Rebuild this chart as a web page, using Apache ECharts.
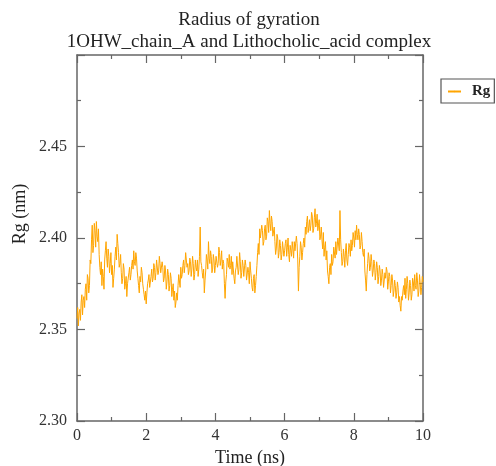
<!DOCTYPE html>
<html><head><meta charset="utf-8">
<script src="https://cdn.jsdelivr.net/npm/echarts@6/dist/echarts.min.js"></script>
<style>html,body{margin:0;padding:0;background:#fff}#c{width:496px;height:466px}</style>
</head><body><div id="c"></div>
<script>
const titleLines = ['Radius of gyration', '1OHW_chain_A and Lithocholic_acid complex'];
const xName = 'Time (ns)';
const yName = 'Rg (nm)';
const seriesName = 'Rg';
const timeStep = 0.02; // ns sampling grid
// Rg at even samples (t = 0, 0.04, 0.08, ... 10.00)
const rgEven = [
2.356,2.352,2.361,2.365,2.358,2.368,2.372,2.366,2.378,2.374,
2.386,2.407,2.396,2.404,2.409,2.398,2.391,2.380,2.374,2.379,
2.388,2.398,2.384,2.390,2.386,2.380,2.373,2.383,2.395,2.402,
2.392,2.386,2.381,2.378,2.383,2.375,2.368,2.374,2.384,2.380,
2.388,2.393,2.385,2.389,2.378,2.370,2.376,2.381,2.372,2.366,
2.364,2.375,2.380,2.372,2.383,2.378,2.384,2.381,2.387,2.382,
2.386,2.380,2.384,2.378,2.382,2.376,2.380,2.374,2.378,2.372,
2.366,2.362,2.370,2.374,2.379,2.384,2.380,2.388,2.385,2.391,
2.386,2.382,2.387,2.383,2.386,2.380,2.384,2.388,2.383,2.406,
2.385,2.378,2.370,2.382,2.388,2.398,2.386,2.390,2.383,2.388,
2.385,2.391,2.386,2.392,2.388,2.383,2.386,2.367,2.380,2.387,
2.391,2.385,2.380,2.386,2.375,2.384,2.389,2.383,2.387,2.381,
2.385,2.380,2.385,2.376,2.381,2.387,2.378,2.371,2.380,2.374,
2.385,2.397,2.405,2.399,2.404,2.398,2.407,2.401,2.409,2.415,
2.404,2.409,2.402,2.398,2.394,2.400,2.392,2.396,2.391,2.397,
2.393,2.399,2.395,2.391,2.396,2.390,2.394,2.398,2.392,2.397,
2.371,2.390,2.395,2.392,2.400,2.406,2.409,2.403,2.410,2.407,
2.412,2.405,2.416,2.408,2.404,2.410,2.401,2.399,2.403,2.395,
2.388,2.382,2.375,2.386,2.391,2.387,2.394,2.398,2.392,2.399,
2.415,2.392,2.387,2.390,2.393,2.388,2.391,2.395,2.399,2.396,
2.400,2.404,2.407,2.399,2.402,2.396,2.398,2.390,2.382,2.371,
2.386,2.389,2.384,2.387,2.382,2.386,2.381,2.384,2.379,2.382,
2.377,2.380,2.374,2.378,2.382,2.376,2.379,2.374,2.377,2.371,
2.374,2.370,2.373,2.368,2.360,2.366,2.374,2.378,2.372,2.375,
2.370,2.374,2.369,2.376,2.380,2.372,2.377,2.371,2.375,2.373,
2.376];
// Rg at odd samples (t = 0.02, 0.06, ... 9.98)
const rgOdd = [
2.362,2.359,2.355,2.369,2.366,2.362,2.375,2.380,2.370,2.388,
2.399,2.392,2.408,2.395,2.401,2.405,2.384,2.387,2.383,2.372,
2.393,2.389,2.394,2.381,2.392,2.385,2.378,2.390,2.388,2.397,
2.384,2.391,2.375,2.386,2.372,2.379,2.375,2.381,2.377,2.385,
2.383,2.387,2.392,2.382,2.374,2.379,2.384,2.375,2.369,2.371,
2.370,2.377,2.373,2.379,2.376,2.386,2.377,2.388,2.380,2.390,
2.381,2.387,2.376,2.385,2.372,2.383,2.371,2.381,2.368,2.375,
2.371,2.365,2.366,2.380,2.373,2.378,2.385,2.381,2.392,2.384,
2.380,2.389,2.379,2.390,2.377,2.388,2.382,2.379,2.390,2.387,
2.381,2.383,2.377,2.391,2.383,2.389,2.393,2.381,2.391,2.381,
2.390,2.384,2.395,2.385,2.393,2.388,2.375,2.376,2.389,2.384,
2.383,2.390,2.387,2.378,2.382,2.390,2.380,2.392,2.378,2.388,
2.379,2.388,2.377,2.384,2.375,2.382,2.373,2.378,2.370,2.379,
2.392,2.391,2.400,2.407,2.396,2.405,2.399,2.411,2.403,2.408,
2.412,2.401,2.406,2.391,2.402,2.389,2.399,2.388,2.398,2.390,
2.397,2.390,2.400,2.387,2.393,2.398,2.389,2.393,2.401,2.388,
2.384,2.398,2.388,2.397,2.395,2.402,2.412,2.406,2.404,2.414,
2.403,2.411,2.406,2.413,2.407,2.399,2.406,2.394,2.390,2.398,
2.393,2.379,2.384,2.380,2.385,2.395,2.389,2.391,2.400,2.393,
2.399,2.385,2.394,2.384,2.397,2.385,2.397,2.390,2.393,2.403,
2.395,2.399,2.402,2.405,2.394,2.403,2.392,2.394,2.377,2.380,
2.392,2.382,2.391,2.379,2.388,2.377,2.387,2.375,2.385,2.374,
2.383,2.373,2.381,2.384,2.372,2.381,2.370,2.380,2.368,2.377,
2.367,2.376,2.365,2.363,2.368,2.371,2.369,2.367,2.379,2.366,
2.377,2.366,2.378,2.371,2.374,2.381,2.368,2.380,2.369,2.379];
const xTicks = [0,2,4,6,8,10];
const yTicks = [2.30,2.35,2.40,2.45];

const rgAll = [];
for (let i = 0; i < rgEven.length; i++) {
  rgAll.push(rgEven[i]);
  if (i < rgOdd.length) rgAll.push(rgOdd[i]);
}
const data = rgAll.map((v,i)=>[+(i*timeStep).toFixed(3), v]);
const font = '"Liberation Serif","Times New Roman",serif';
const axisCol = '#666';
const chart = echarts.init(document.getElementById('c'), null, {renderer:'canvas'});
const tickStyle = {show:true, inside:true, length:8, lineStyle:{color:axisCol, width:1.2}};
const minorStyle = {show:true, splitNumber:2, length:4, lineStyle:{color:axisCol, width:1.2}};
const baseX = {
  type:'value', min:0, max:10, interval:2,
  axisLine:{show:true, onZero:false, lineStyle:{color:axisCol, width:1.5}},
  axisTick:tickStyle, minorTick:minorStyle, splitLine:{show:false}
};
const baseY = {
  type:'value', min:2.30, max:2.50, interval:0.05,
  axisLine:{show:true, onZero:false, lineStyle:{color:axisCol, width:1.5}},
  axisTick:tickStyle, minorTick:minorStyle, splitLine:{show:false}
};
chart.setOption({
  animation:false,
  backgroundColor:'#fff',
  title:{
    text: titleLines.join('\n'),
    left:249, top:9, padding:0, textAlign:'center',
    textStyle:{fontFamily:font, fontSize:19, fontWeight:'normal', color:'#222', lineHeight:22}
  },
  legend:{
    data:[seriesName],
    left:441, top:79,
    orient:'vertical',
    borderColor:'#555', borderWidth:1.2, padding:[5,4,4,6],
    itemWidth:13, itemHeight:2,
    textStyle:{fontFamily:font, fontSize:15, fontWeight:'bold', color:'#222', padding:[0,0,0,6]}
  },
  grid:{left:77, right:73, top:55, bottom:45, containLabel:false, outerBoundsMode:'none'},
  xAxis:[
    Object.assign({}, baseX, {
      position:'bottom',
      name:xName, nameLocation:'middle', nameGap:14,
      nameTextStyle:{fontFamily:font, fontSize:18, color:'#222'},
      axisLabel:{show:true, fontFamily:font, fontSize:16, color:'#333', margin:7,
        formatter:(v)=> xTicks.includes(v) ? String(v) : ''}
    }),
    Object.assign({}, baseX, {position:'top', axisLabel:{show:false}})
  ],
  yAxis:[
    Object.assign({}, baseY, {
      position:'left',
      axisLabel:{show:true, fontFamily:font, fontSize:16, color:'#333', margin:10,
        formatter:(v)=> yTicks.some(t=>Math.abs(t-v)<1e-9) ? v.toFixed(2) : ''}
    }),
    Object.assign({}, baseY, {position:'right', axisLabel:{show:false}})
  ],
  graphic:[{
    type:'text', x:20, y:214, rotation:Math.PI/2,
    style:{text:yName, font:'18px ' + font, fill:'#222', align:'center', verticalAlign:'middle'}
  }],
  series:[{
    name:seriesName, type:'line', data:data,
    xAxisIndex:0, yAxisIndex:0,
    showSymbol:false, symbol:'none',
    lineStyle:{color:'#FFA500', width:1},
    itemStyle:{color:'#FFA500'}
  }]
});
</script></body></html>
